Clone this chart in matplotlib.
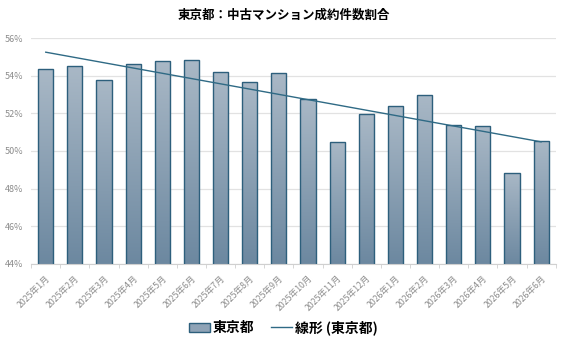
#!/usr/bin/env python3
"""東京都 中古マンション成約件数割合: monthly bars with a linear trend line."""

import matplotlib
matplotlib.use("Agg")
import matplotlib.pyplot as plt
import numpy as np
from matplotlib.lines import Line2D
from matplotlib.patches import Patch

plt.rcParams["font.family"] = ["Noto Sans CJK JP", "DejaVu Sans"]

months = [
    "2025年1月", "2025年2月", "2025年3月", "2025年4月", "2025年5月", "2025年6月",
    "2025年7月", "2025年8月", "2025年9月", "2025年10月", "2025年11月", "2025年12月",
    "2026年1月", "2026年2月", "2026年3月", "2026年4月", "2026年5月", "2026年6月",
]
share = [
    54.35, 54.5, 53.8, 54.6, 54.8, 54.85, 54.2, 53.65, 54.15,
    52.75, 50.5, 51.95, 52.4, 53.0, 51.4, 51.35, 48.85, 50.55,
]
y_ticks = [44, 46, 48, 50, 52, 54, 56]

EDGE = "#2d5f7c"
TREND = "#2f6a85"
TOP = np.array([0xa9, 0xb8, 0xc6]) / 255
BOTTOM = np.array([0x6c, 0x88, 0xa0]) / 255

fig = plt.figure(figsize=(5.67, 3.47), dpi=100)
ax = fig.add_axes([0.055, 0.24, 0.925, 0.65])

x = np.arange(len(months))
bars = ax.bar(x, share, width=0.52, color="none", edgecolor=EDGE, linewidth=1.0, zorder=3)

# vertical gradient inside each bar
grad = np.linspace(0, 1, 256)[:, None, None]
img = TOP * (1 - grad) + BOTTOM * grad
ymin = y_ticks[0]
for b in bars:
    x0, w, h = b.get_x(), b.get_width(), b.get_height()
    im = ax.imshow(img, extent=[x0, x0 + w, ymin, h], aspect="auto",
                   origin="upper", zorder=2)
    im.set_clip_path(b)

# linear trend
coef = np.polyfit(x, share, 1)
ax.plot(x, np.polyval(coef, x), color=TREND, linewidth=1.0, zorder=4)

ax.set_xlim(-0.5, len(months) - 0.5)
ax.set_ylim(y_ticks[0], y_ticks[-1])
ax.set_yticks(y_ticks)
ax.set_yticklabels([f"{v}%" for v in y_ticks], fontsize=6.5, color="#8c8c8c")
ax.yaxis.grid(True, color="#e2e2e2", linewidth=0.9, zorder=0)
ax.set_axisbelow(True)
ax.tick_params(axis="y", length=0, pad=6)

ax.set_xticks(x)
ax.set_xticklabels(months, rotation=45, ha="right", rotation_mode="anchor",
                   fontsize=6.3, color="#8c8c8c")
ax.set_xticks(np.arange(-0.5, len(months)), minor=True)
ax.tick_params(axis="x", which="major", length=0, pad=7)
ax.tick_params(axis="x", which="minor", length=3, color="#d0d0d0")

for side in ("top", "right", "left"):
    ax.spines[side].set_visible(False)
ax.spines["bottom"].set_color("#d0d0d0")

fig.suptitle("東京都：中古マンション成約件数割合", fontsize=9, fontweight="bold",
             x=0.5, y=0.975)

handles = [
    Patch(facecolor="#8fa3b6", edgecolor=EDGE, linewidth=1.0),
    Line2D([0], [0], color=TREND, linewidth=1.0),
]
fig.legend(handles, ["東京都", "線形 (東京都)"], loc="center", bbox_to_anchor=(0.5, 0.055),
           ncol=2, frameon=False, prop={"size": 10, "weight": "bold"},
           handlelength=1.5, handleheight=0.7, handletextpad=0.2, columnspacing=1.2)

fig.savefig("out.png", dpi=100)
